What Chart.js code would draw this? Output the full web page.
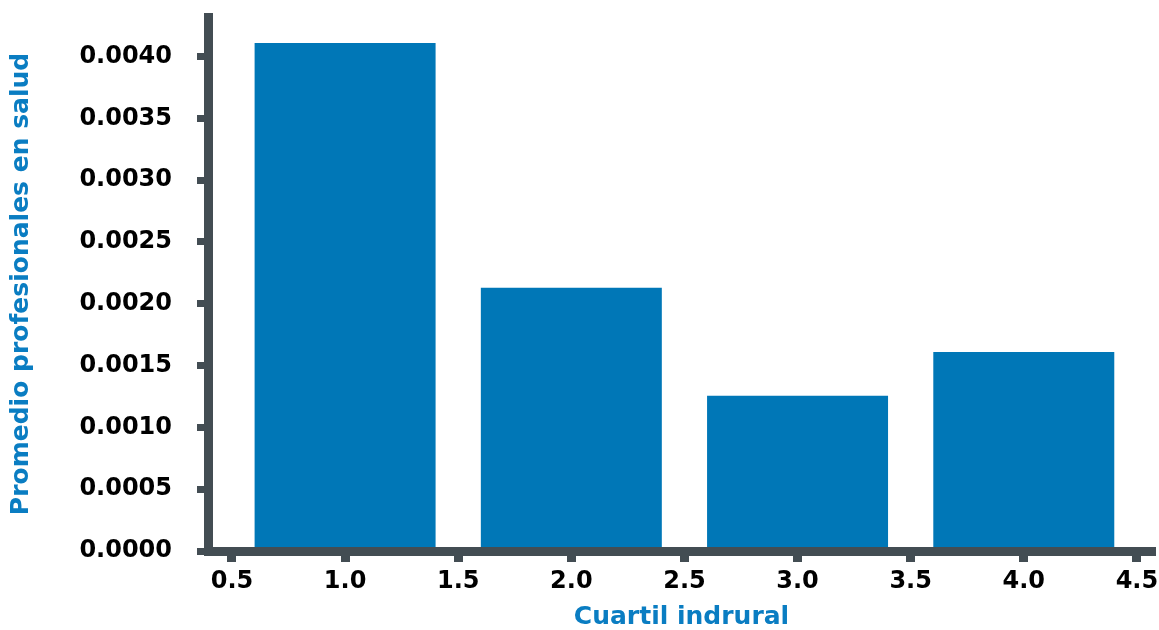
<!DOCTYPE html>
<html>
<head>
<meta charset="utf-8">
<script src="https://cdn.jsdelivr.net/npm/chart.js@4"></script>
<style>
  html, body { margin: 0; padding: 0; background: #fff; }
  #wrap { width: 1159px; height: 630px; }
</style>
</head>
<body>
<div id="wrap"><canvas id="quartileChart"></canvas></div>
<script>
// Data
const quartiles = [1, 2, 3, 4];
const promedio = [0.00411, 0.00213, 0.001255, 0.00161];
const xTicks = [0.5, 1.0, 1.5, 2.0, 2.5, 3.0, 3.5, 4.0, 4.5];
const yTicks = [0, 0.0005, 0.001, 0.0015, 0.002, 0.0025, 0.003, 0.0035, 0.004];

const axisColor = '#434d53';
const barColor = '#0077b7';
const titleColor = '#0a7dc2';
const tickFont = { family: 'DejaVu Sans', size: 24, weight: 'bold' };
const titleFont = { family: 'DejaVu Sans', size: 25, weight: 'bold', lineHeight: 1 };

const ctxQuartile = document.getElementById('quartileChart').getContext('2d');
const quartileChart = new Chart(ctxQuartile, {
  type: 'bar',
  data: {
    datasets: [{
      data: quartiles.map((q, i) => ({ x: q, y: promedio[i] })),
      backgroundColor: barColor,
      // ruler spacing comes from the 0.5 ticks, so 1.6 * 0.5 = 0.8 units wide
      categoryPercentage: 1.6,
      barPercentage: 1.0
    }]
  },
  options: {
    responsive: true,
    maintainAspectRatio: false,
    animation: false,
    layout: { padding: { top: 17, right: 4, left: 0, bottom: 0 } },
    plugins: {
      legend: { display: false },
      tooltip: { enabled: false }
    },
    scales: {
      x: {
        type: 'linear',
        offset: false,
        min: 0.394,
        max: 4.58,
        afterBuildTicks: scale => { scale.ticks = xTicks.map(v => ({ value: v })); },
        afterFit: scale => {
          scale.height = 79;
          scale.paddingLeft = 0;
          scale.paddingRight = 0;
        },
        grid: {
          offset: false,
          drawOnChartArea: false,
          tickLength: 11,
          tickWidth: 9,
          tickColor: axisColor
        },
        border: { display: true, width: 9, color: axisColor, z: 1 },
        ticks: {
          color: '#000',
          font: tickFont,
          padding: 5,
          maxRotation: 0,
          autoSkip: false,
          callback: value => Number(value).toFixed(1)
        },
        title: {
          display: true,
          text: 'Cuartil indrural',
          color: titleColor,
          font: titleFont,
          padding: { top: 0, bottom: 0 }
        }
      },
      y: {
        min: 0,
        max: 0.00432,
        afterBuildTicks: scale => { scale.ticks = yTicks.map(v => ({ value: v })); },
        afterFit: scale => {
          scale.width = 208;
          scale.paddingTop = 0;
          scale.paddingBottom = 0;
        },
        grid: {
          drawOnChartArea: false,
          tickLength: 11,
          tickWidth: 7,
          tickColor: axisColor
        },
        border: { display: true, width: 9, color: axisColor, z: 1 },
        ticks: {
          color: '#000',
          font: tickFont,
          padding: 25,
          autoSkip: false,
          callback: value => Number(value).toFixed(4)
        },
        title: {
          display: true,
          text: 'Promedio profesionales en salud',
          color: titleColor,
          font: titleFont,
          padding: { top: 9, bottom: 0 }
        }
      }
    }
  }
});
</script>
</body>
</html>
